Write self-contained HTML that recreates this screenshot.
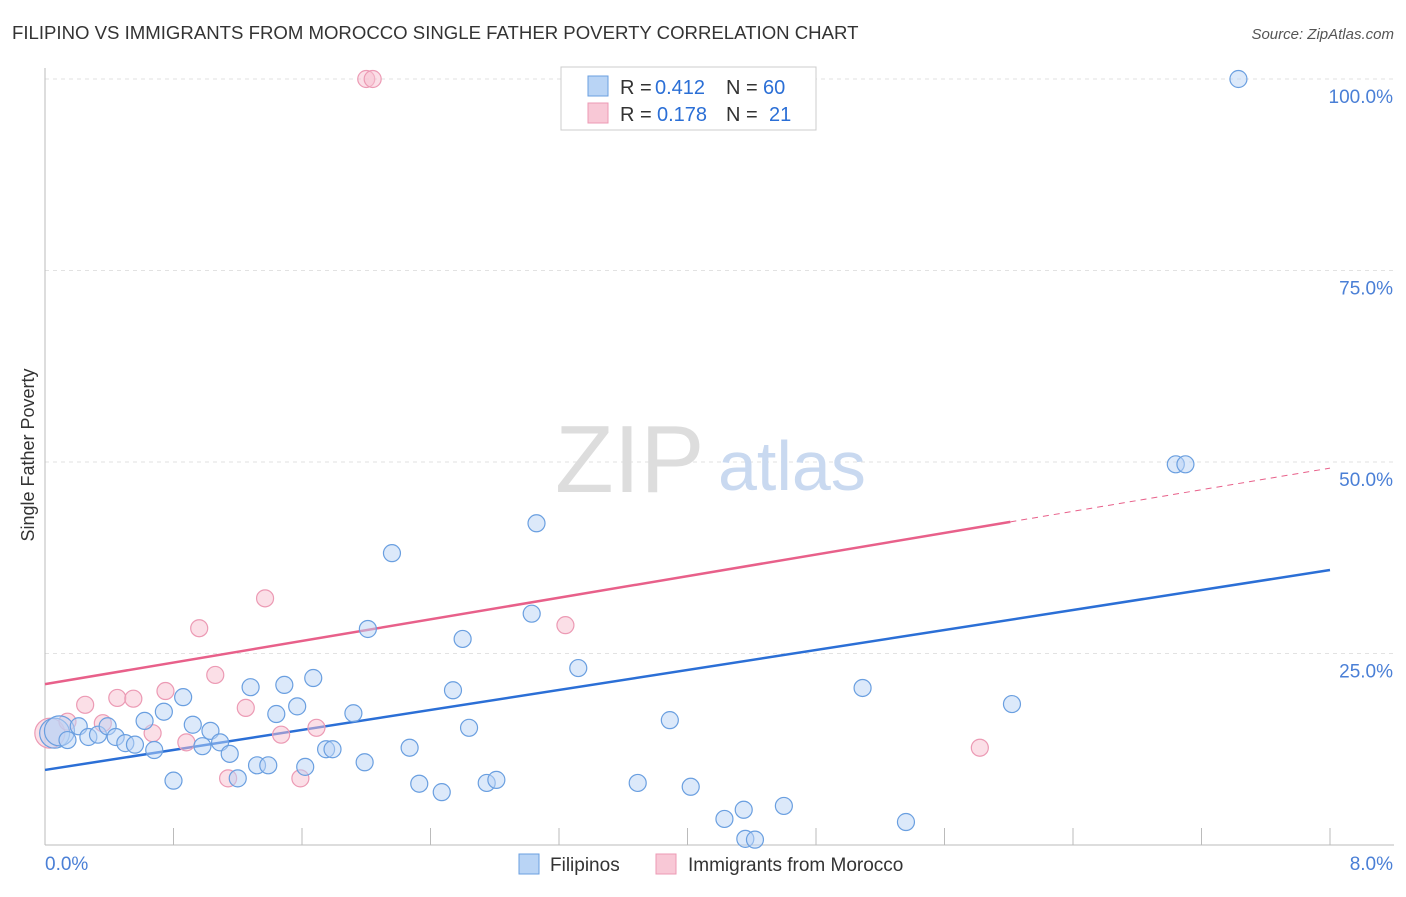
<!DOCTYPE html>
<html><head><meta charset="utf-8"><style>
body{margin:0;background:#fff;font-family:"Liberation Sans",sans-serif;}
svg text{font-family:"Liberation Sans",sans-serif;}
</style></head><body>
<svg width="1406" height="892" xmlns="http://www.w3.org/2000/svg">
<text x="12" y="39" font-size="18.6" fill="#333">FILIPINO VS IMMIGRANTS FROM MOROCCO SINGLE FATHER POVERTY CORRELATION CHART</text>
<text x="1394" y="39" font-size="15" fill="#555" text-anchor="end" font-style="italic">Source: ZipAtlas.com</text>
<g id="grid"></g>
<text x="555" y="492" font-size="96" fill="#ddd" font-family="Liberation Serif">ZIP</text>
<text x="718" y="490" font-size="70" fill="#c9d9f0">atlas</text>
<text x="34" y="455" font-size="18" fill="#333" text-anchor="middle" transform="rotate(-90 34 455)">Single Father Poverty</text>
<g id="lines"></g>
<g id="pts"></g>
<g>
<rect x="561" y="67" width="255" height="63" fill="#fff" stroke="#ccc"/>
<rect x="588" y="76" width="20" height="20" fill="#b9d4f5" stroke="#6a9fe0"/>
<rect x="588" y="103" width="20" height="20" fill="#f8c8d6" stroke="#ec9ab4"/>
<text x="620" y="94" font-size="20" fill="#333">R =</text>
<text x="655" y="94" font-size="20" fill="#2b6fd6">0.412</text>
<text x="726" y="94" font-size="20" fill="#333">N =</text>
<text x="763" y="94" font-size="20" fill="#2b6fd6">60</text>
<text x="620" y="121" font-size="20" fill="#333">R =</text>
<text x="657" y="121" font-size="20" fill="#2b6fd6">0.178</text>
<text x="726" y="121" font-size="20" fill="#333">N =</text>
<text x="769" y="121" font-size="20" fill="#2b6fd6">21</text>
</g>
<g>
<rect x="519" y="854" width="20" height="20" fill="#b9d4f5" stroke="#6a9fe0"/>
<text x="550" y="871" font-size="19" fill="#333">Filipinos</text>
<rect x="656" y="854" width="20" height="20" fill="#f8c8d6" stroke="#ec9ab4"/>
<text x="688" y="871" font-size="19" fill="#333">Immigrants from Morocco</text>
</g>
</svg>
<script>
const blueX=[0.06,0.09,0.14,0.21,0.27,0.33,0.39,0.44,0.50,0.56,0.62,0.68,0.74,0.80,0.86,0.92,0.98,1.03,1.09,1.15,1.20,1.28,1.32,1.39,1.44,1.49,1.57,1.62,1.67,1.75,1.79,1.92,1.99,2.01,2.16,2.27,2.33,2.47,2.54,2.60,2.64,2.75,2.81,3.03,3.06,3.32,3.69,3.89,4.02,4.23,4.35,4.36,4.42,4.60,5.09,5.36,6.02,7.04,7.10,7.43];
const blueY=[14.6,14.9,13.7,15.5,14.1,14.4,15.5,14.1,13.3,13.1,16.2,12.4,17.4,8.4,19.3,15.7,12.9,14.9,13.4,11.9,8.7,20.6,10.4,10.4,17.1,20.9,18.1,10.2,21.8,12.5,12.5,17.2,10.8,28.2,38.1,12.7,8.0,6.9,20.2,26.9,15.3,8.1,8.5,30.2,42.0,23.1,8.1,16.3,7.6,3.4,4.6,0.8,0.7,5.1,20.5,3.0,18.4,49.7,49.7,100];
const pinkX=[0.03,0.14,0.25,0.36,0.45,0.55,0.67,0.75,0.88,0.96,1.06,1.14,1.25,1.37,1.47,1.59,1.69,2.00,2.04,3.24,5.82];
const pinkY=[14.6,16.1,18.3,15.9,19.2,19.1,14.6,20.1,13.4,28.3,22.2,8.7,17.9,32.2,14.4,8.7,15.3,100,100,28.7,12.7];
const blueTrend=[9.8,35.9];
const pinkTrend=[21.0,49.2];
const pinkSolidEnd=6.01;
const yTicks=[25,50,75,100];
const xTickCount=10;
const NS="http://www.w3.org/2000/svg";
const X=v=>45+v/8*1285, Y=v=>845-v/100*766;
function mk(t,a,p){const e=document.createElementNS(NS,t);for(const k in a)e.setAttribute(k,a[k]);p.appendChild(e);return e;}
const svg=document.querySelector('svg'),grid=document.getElementById('grid'),lines=document.getElementById('lines'),pts=document.getElementById('pts');
yTicks.forEach(t=>{
const l=mk('line',{x1:45,x2:1394,y1:Y(t),y2:Y(t),stroke:'#e2e2e2','stroke-dasharray':'4,4'},grid);


const tx=mk('text',{x:1393,y:Y(t)+24,'font-size':19,fill:'#4a7fd6','text-anchor':'end'},grid);tx.textContent=t.toFixed(1)+'%';


});
const ax=mk('line',{x1:45,x2:45,y1:68,y2:845,stroke:'#bbb'},grid);


const bx=mk('line',{x1:45,x2:1394,y1:845,y2:845,stroke:'#bbb'},grid);


for(let i=1;i<=xTickCount;i++){const xv=8*i/xTickCount;const t=mk('line',{x1:X(xv),x2:X(xv),y1:828,y2:845,stroke:'#bbb'},grid);

}
const l0=mk('text',{x:45,y:870,'font-size':19,fill:'#4a7fd6'},grid);l0.textContent='0.0%';


const l8=mk('text',{x:1393,y:870,'font-size':19,fill:'#4a7fd6','text-anchor':'end'},grid);l8.textContent='8.0%';


function drawPts(xs,ys,fill,stroke,name){xs.forEach((x,i)=>{const c=mk('circle',{cx:X(x),cy:Y(ys[i]),r:x<0.1?15:8.5,fill:fill,'fill-opacity':0.5,stroke:stroke,'stroke-width':1.2},pts);

});}
drawPts(pinkX,pinkY,'#f8c0d0','#ec9ab4','morocco-point');
drawPts(blueX,blueY,'#b9d4f5','#6a9fe0','filipino-point');
const bl=mk('line',{x1:X(0),y1:Y(blueTrend[0]),x2:X(8),y2:Y(blueTrend[1]),stroke:'#2b6fd6','stroke-width':2.5},lines);


const pm=v=>pinkTrend[0]+(pinkTrend[1]-pinkTrend[0])*v/8;
const pl=mk('line',{x1:X(0),y1:Y(pm(0)),x2:X(pinkSolidEnd),y2:Y(pm(pinkSolidEnd)),stroke:'#e8608a','stroke-width':2.5},lines);


const pd=mk('line',{x1:X(pinkSolidEnd),y1:Y(pm(pinkSolidEnd)),x2:X(8),y2:Y(pm(8)),stroke:'#e8608a','stroke-width':1,'stroke-dasharray':'6,5'},lines);


</script>
</body></html>
